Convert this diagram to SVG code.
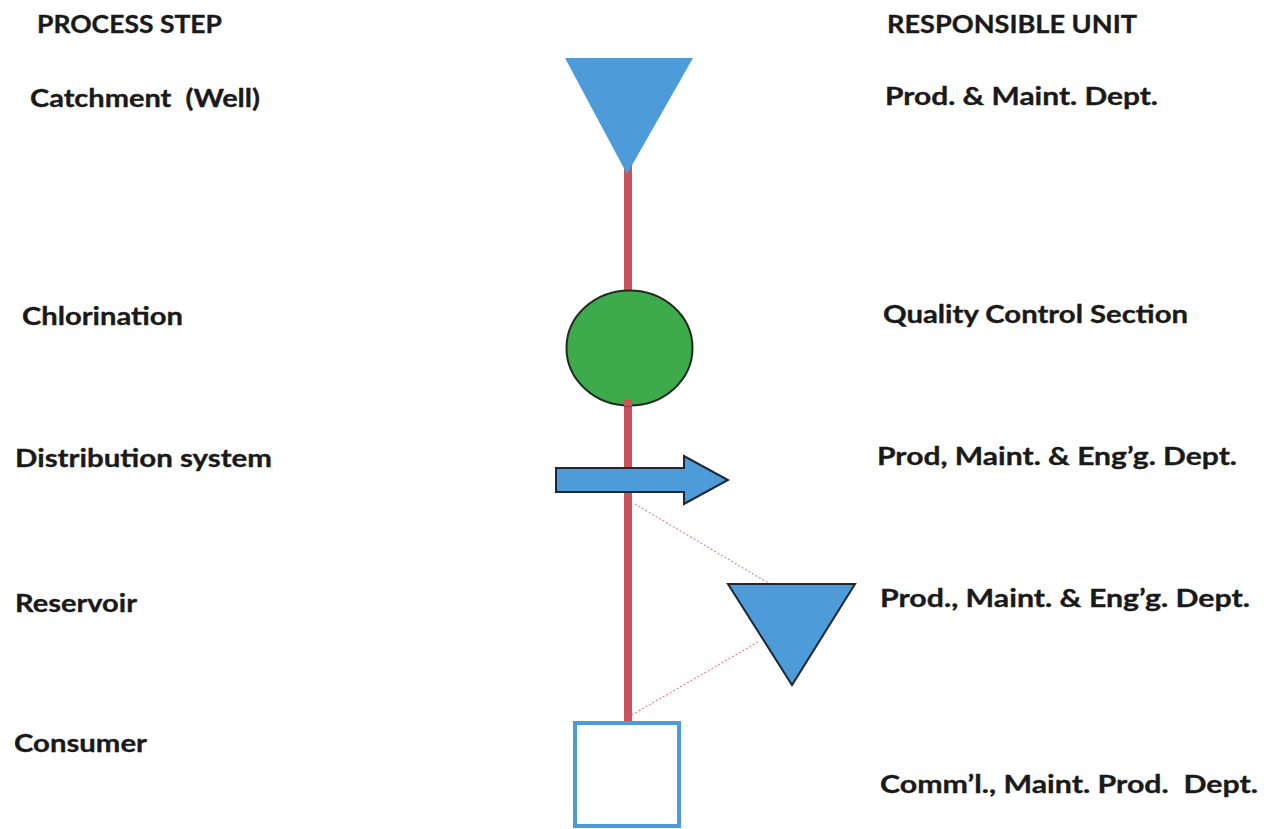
<svg xmlns="http://www.w3.org/2000/svg" width="1278" height="829" viewBox="0 0 1278 829">
  <style>
    .t { font-family: Lato, "Open Sans", "Liberation Sans", sans-serif; font-weight: bold; font-size: 25px; fill: #1a1a1a; white-space: pre; stroke: #1a1a1a; stroke-width: 0.35; }
    .blue { fill: #4d9bd9; }
    .edge { fill: #4d9bd9; stroke: #1f2733; stroke-width: 2; stroke-linejoin: miter; }
    .main { stroke: #c9525c; stroke-width: 8; fill: none; }
    .thin { stroke: #e08a90; stroke-width: 1.2; stroke-dasharray: 2 2; fill: none; }
  </style>
  <rect width="1278" height="829" fill="#ffffff"/>

  <g id="headers">
    <text class="t" x="37" y="33" textLength="185" lengthAdjust="spacingAndGlyphs">PROCESS STEP</text>
    <text class="t" x="887" y="33" textLength="250" lengthAdjust="spacingAndGlyphs">RESPONSIBLE UNIT</text>
  </g>

  <g id="connectors">
    <line class="main" x1="628" y1="165" x2="628" y2="722"/>
    <line class="thin" x1="635" y1="504" x2="770" y2="584"/>
    <line class="thin" x1="758" y1="642" x2="630" y2="716"/>
  </g>

  <g id="catchment">
    <polygon class="blue" points="565,58 693,58 627,174"/>
    <text class="t" x="30" y="107" textLength="230" lengthAdjust="spacingAndGlyphs">Catchment  (Well)</text>
    <text class="t" x="885" y="105" textLength="273" lengthAdjust="spacingAndGlyphs">Prod. &amp; Maint. Dept.</text>
  </g>

  <g id="chlorination">
    <ellipse cx="629.5" cy="348" rx="63" ry="57.5" fill="#3dab4b" stroke="#1f2a22" stroke-width="2"/>
    <line class="main" x1="628" y1="400" x2="628" y2="406"/>
    <text class="t" x="22" y="325" textLength="161" lengthAdjust="spacingAndGlyphs">Chlorination</text>
    <text class="t" x="883" y="323" textLength="305" lengthAdjust="spacingAndGlyphs">Quality Control Section</text>
  </g>

  <g id="distribution">
    <polygon class="edge" points="556,468 684,468 684,456 728,480 684,504 684,492 556,492"/>
    <text class="t" x="15" y="467" textLength="257" lengthAdjust="spacingAndGlyphs">Distribution system</text>
    <text class="t" x="877" y="465" textLength="360" lengthAdjust="spacingAndGlyphs">Prod, Maint. &amp; Eng’g. Dept.</text>
  </g>

  <g id="reservoir">
    <polygon class="edge" points="728,584 855,584 792,685"/>
    <text class="t" x="15" y="612" textLength="122" lengthAdjust="spacingAndGlyphs">Reservoir</text>
    <text class="t" x="880" y="607" textLength="370" lengthAdjust="spacingAndGlyphs">Prod., Maint. &amp; Eng’g. Dept.</text>
  </g>

  <g id="consumer">
    <rect x="575" y="723" width="104" height="103" fill="#ffffff" stroke="#4d9bd9" stroke-width="4"/>
    <text class="t" x="14" y="752" textLength="133" lengthAdjust="spacingAndGlyphs">Consumer</text>
    <text class="t" x="880" y="793" textLength="378" lengthAdjust="spacingAndGlyphs">Comm’l., Maint. Prod.  Dept.</text>
  </g>
</svg>
